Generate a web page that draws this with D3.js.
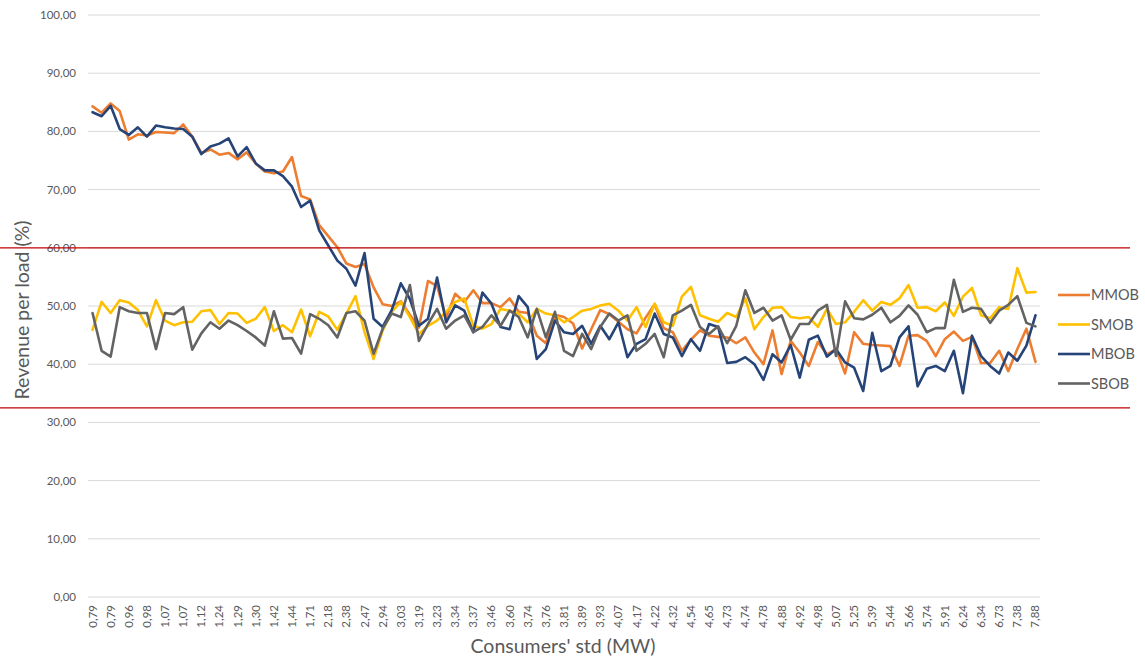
<!DOCTYPE html>
<html>
<head>
<meta charset="utf-8">
<script src="https://cdn.jsdelivr.net/npm/d3@7"></script>
<style>
  body { margin: 0; background: #fff; }
  svg { display: block; font-family: Lato, "Open Sans", sans-serif; }
</style>
</head>
<body>
<svg id="chart" width="1145" height="659"></svg>
<script>
// visible tick labels (every second category is labelled)
var tickLabels = ["0,79","0,79","0,96","0,98","1,07","1,07","1,12","1,24","1,29","1,30","1,42","1,44","1,71",
  "2,18","2,38","2,47","2,94","3,03","3,19","3,23","3,34","3,37","3,46","3,60","3,74","3,76","3,81","3,89",
  "3,93","4,07","4,17","4,22","4,32","4,54","4,65","4,73","4,74","4,78","4,88","4,92","4,98","5,07","5,25",
  "5,39","5,44","5,66","5,74","5,91","6,24","6,34","6,73","7,38","7,88"];

var seriesNames = ["MMOB", "SMOB", "MBOB", "SBOB"];
var seriesColors = ["#ED7D31", "#FFC000", "#264478", "#636363"];

var mmob = [84.3,83.2,84.8,83.5,78.6,79.5,79.3,79.9,79.8,79.7,81.2,79.1,76.3,76.9,76.0,76.3,75.2,76.4,74.5,73.1,
  72.8,73.1,75.6,68.9,68.3,63.9,62.0,60.1,57.3,56.7,57.2,53.2,50.3,
  50.0,50.8,48.5,46.3,54.3,53.4,48.0,52.1,50.7,52.7,50.5,50.5,49.8,51.3,49.0,48.8,44.9,43.6,48.5,48.1,47.0,
  42.7,46.0,49.3,48.6,47.3,46.0,45.3,48.0,50.3,46.2,45.5,42.3,44.2,45.8,44.9,
  44.7,44.6,43.6,44.6,42.0,40.0,45.8,38.3,44.0,42.0,39.7,43.8,41.7,42.6,38.4,45.5,43.5,43.3,43.2,43.1,39.7,
  44.9,45.0,44.0,41.4,44.3,45.6,44.0,44.7,40.2,40.2,42.3,38.8,42.6,46.1,40.4];

var smob = [45.9,50.7,48.8,51.0,50.6,49.3,46.5,51.0,47.5,46.7,47.2,47.3,49.1,49.3,46.9,48.8,48.7,47.1,47.8,49.8,
  45.7,46.7,45.5,49.4,44.8,49.0,48.2,45.9,48.7,51.7,45.5,40.9,45.8,
  49.0,50.7,48.1,45.2,46.6,47.5,49.0,50.7,51.3,46.6,46.1,46.9,49.5,49.2,48.7,47.2,49.5,48.7,48.4,47.2,48.1,
  49.2,49.5,50.1,50.4,49.2,47.5,49.8,46.4,50.4,47.2,46.6,51.6,53.3,48.4,47.8,
  47.3,48.8,48.1,51.3,46.0,48.1,49.7,49.8,48.1,47.9,48.1,46.4,49.5,46.9,47.2,49.0,51.0,49.2,50.7,50.2,51.3,
  53.6,49.7,49.8,49.1,50.6,48.3,51.6,53.1,48.4,47.9,49.8,49.5,56.5,52.3,52.4];

var mbob = [83.3,82.6,84.4,80.4,79.4,80.7,79.1,81.0,80.7,80.5,80.4,79.1,76.1,77.4,77.9,78.8,75.7,77.3,74.5,73.3,
  73.3,72.3,70.5,67.0,68.1,63.0,60.4,57.8,56.4,53.5,59.1,47.8,46.4,
  49.3,53.9,51.2,46.6,47.8,54.9,47.2,50.1,49.2,45.5,52.3,50.4,46.4,46.0,51.7,49.8,40.9,42.6,47.5,45.5,45.2,
  46.6,43.5,46.6,44.3,47.2,41.2,43.5,44.3,48.7,45.2,44.6,41.4,44.3,42.3,46.9,
  46.4,40.2,40.4,41.2,40.0,37.3,41.7,40.3,43.3,37.7,44.2,44.9,41.3,42.6,40.3,39.4,35.4,45.4,38.8,39.7,44.6,
  46.5,36.2,39.2,39.7,38.8,42.3,35.0,44.9,41.4,39.7,38.4,42.0,40.6,43.2,48.4];

var sbob = [48.8,42.3,41.3,49.8,49.1,48.8,48.8,42.6,48.8,48.6,49.8,42.5,45.3,47.2,46.1,47.5,46.7,45.7,44.6,43.2,
  49.1,44.4,44.5,41.8,48.6,47.8,46.7,44.6,48.8,49.1,47.5,41.8,46.1,
  48.7,48.1,53.6,44.0,46.9,49.5,46.1,47.5,48.4,45.5,46.4,48.4,46.6,49.2,48.1,44.6,49.5,44.6,49.0,42.3,41.4,
  45.2,42.6,46.4,48.7,47.5,48.4,42.3,43.5,45.2,41.2,48.4,49.2,50.2,46.4,45.2,
  46.5,43.6,46.6,52.7,48.8,49.7,47.5,48.4,44.2,46.9,46.9,49.2,50.2,41.4,50.8,47.9,47.7,48.5,49.7,47.2,48.3,
  50.1,48.5,45.5,46.2,46.2,54.5,49.0,49.7,49.5,47.1,49.2,50.2,51.7,47.1,46.5];

// red reference lines drawn over the chart
var refLines = [60, 32.5];

var allSeries = [mmob, smob, mbob, sbob];
var nCat = mmob.length;

var svg = d3.select("#chart"),
    plotLeft = 88, plotRight = 1040, plotTop = 15, plotBottom = 597;

var x = d3.scaleBand().domain(d3.range(nCat)).range([plotLeft, plotRight]);
var y = d3.scaleLinear().domain([0, 100]).range([plotBottom, plotTop]);
var cx = function (i) { return x(i) + x.bandwidth() / 2; };

// gridlines + y labels
var yTicks = d3.range(0, 101, 10);
svg.append("g").selectAll("line").data(yTicks).enter().append("line")
    .attr("x1", plotLeft).attr("x2", plotRight)
    .attr("y1", function (d) { return y(d); }).attr("y2", function (d) { return y(d); })
    .attr("stroke", "#d9d9d9").attr("stroke-width", 1);

svg.append("g").selectAll("text").data(yTicks).enter().append("text")
    .attr("x", 76).attr("y", function (d) { return y(d); })
    .attr("dy", "0.35em").attr("text-anchor", "end")
    .attr("font-size", "11.5px").attr("fill", "#595959")
    .text(function (d) { return d3.format(".2f")(d).replace(".", ","); });

// x axis labels (every second category)
var xAxis = d3.axisBottom(x)
    .tickValues(d3.range(0, nCat, 2))
    .tickSize(0)
    .tickFormat(function (d) { return tickLabels[d / 2]; });

var gx = svg.append("g").attr("transform", "translate(0," + plotBottom + ")").call(xAxis);
gx.select(".domain").remove();
gx.selectAll("text")
    .attr("transform", "rotate(-90)")
    .attr("x", -8).attr("y", 0).attr("dy", "0.35em")
    .attr("text-anchor", "end")
    .attr("font-family", "Lato, sans-serif")
    .attr("font-size", "11.5px").attr("fill", "#595959");

// series lines
var line = d3.line()
    .x(function (d, i) { return cx(i); })
    .y(function (d) { return y(d); });

svg.append("g").selectAll("path").data(allSeries).enter().append("path")
    .attr("d", line)
    .attr("fill", "none")
    .attr("stroke", function (d, i) { return seriesColors[i]; })
    .attr("stroke-width", 2.6)
    .attr("stroke-linejoin", "round")
    .attr("stroke-linecap", "round");

// axis titles
svg.append("text")
    .attr("x", 563).attr("y", 653)
    .attr("text-anchor", "middle")
    .attr("font-size", "19.5px").attr("fill", "#595959")
    .text("Consumers' std (MW)");

svg.append("text")
    .attr("transform", "translate(29,310) rotate(-90)")
    .attr("text-anchor", "middle")
    .attr("font-size", "19.5px").attr("fill", "#595959")
    .text("Revenue per load (%)");

// legend
var legend = svg.append("g").selectAll("g").data(seriesNames).enter().append("g")
    .attr("transform", function (d, i) { return "translate(1058," + (295 + i * 29.5) + ")"; });
legend.append("line")
    .attr("x1", 0).attr("x2", 32)
    .attr("stroke", function (d, i) { return seriesColors[i]; })
    .attr("stroke-width", 2.6);
legend.append("text")
    .attr("x", 33).attr("dy", "0.35em")
    .attr("font-size", "14.5px").attr("fill", "#595959")
    .text(function (d) { return d; });

// red lines
svg.append("g").selectAll("line").data(refLines).enter().append("line")
    .attr("x1", 0).attr("x2", 1130)
    .attr("y1", function (d) { return y(d); }).attr("y2", function (d) { return y(d); })
    .attr("stroke", "#c00000").attr("stroke-width", 1.2);
</script>
</body>
</html>
